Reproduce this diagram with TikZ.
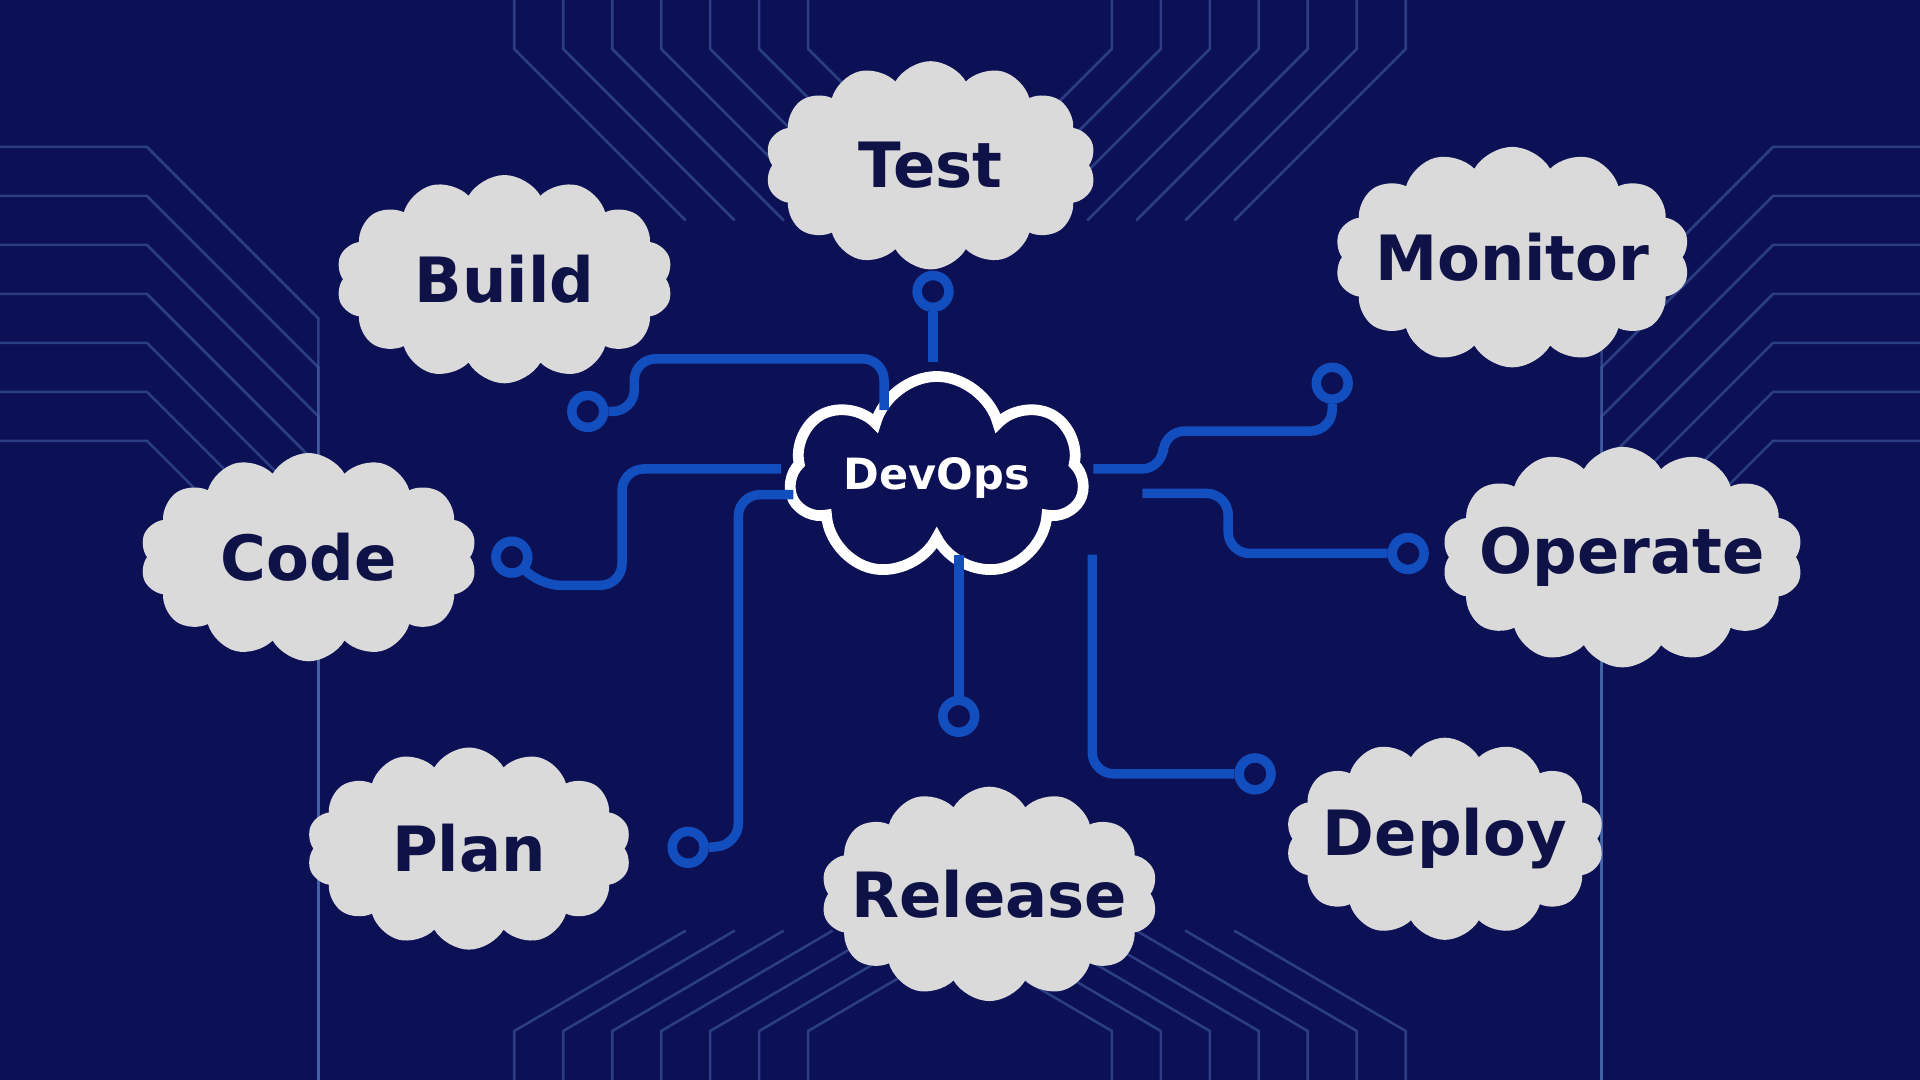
\documentclass[tikz,border=0pt]{standalone}
\usepackage{fontspec}
\setmainfont{DejaVu Sans}
\usetikzlibrary{shapes,positioning,calc}
\definecolor{nightBlue}{RGB}{12, 16, 84}
\definecolor{wireBlue}{RGB}{18, 78, 190}
\definecolor{puffGray}{RGB}{218, 218, 218}
\definecolor{inkNavy}{RGB}{14, 18, 70}
\definecolor{traceBlue}{RGB}{70, 100, 170}
\begin{document}
\begin{tikzpicture}[x=0.01cm,y=-0.01cm,
    stage/.style={cloud,cloud puffs=14,cloud puff arc=120,fill=puffGray,
                  draw=none,inner sep=0pt,
                  label={[font=\fontsize{14.5}{17}\selectfont\bfseries,text=inkNavy]center:#1}},
    wire/.style={draw=wireBlue,line width=2.2pt,rounded corners=5pt},
    ring/.style={circle,draw=wireBlue,line width=2.2pt,minimum size=0.26cm,inner sep=0pt},
    trace/.style={draw=traceBlue,line width=0.6pt,opacity=0.55}
  ]
  % background
  \fill[nightBlue] (0,0) rectangle (1568,882);
  \useasboundingbox (0,0) rectangle (1568,882);
  % faint circuit traces
  \foreach \s in {0,40,...,240}{
    \draw[trace] (0,120+\s) -- (120,120+\s) -- (260,260+\s) -- (260,882);
    \draw[trace] (1568,120+\s) -- (1448,120+\s) -- (1308,260+\s) -- (1308,882);
    \draw[trace] (420+\s,0) -- (420+\s,40) -- (560+\s,180);
    \draw[trace] (1148-\s,0) -- (1148-\s,40) -- (1008-\s,180);
    \draw[trace] (420+\s,882) -- (420+\s,842) -- (560+\s,760);
    \draw[trace] (1148-\s,882) -- (1148-\s,842) -- (1008-\s,760);
  }
  % stages
  \node[stage=Test,minimum width=2.7cm,minimum height=1.7cm] (test) at (760,135) {};
  \node[stage=Build,minimum width=2.75cm,minimum height=1.7cm] (build) at (412,228) {};
  \node[stage=Monitor,minimum width=2.9cm,minimum height=1.8cm] (monitor) at (1235,210) {};
  \node[stage=Code,minimum width=2.75cm,minimum height=1.7cm] (code) at (252,455) {};
  \node[stage=Operate,minimum width=2.95cm,minimum height=1.8cm] (operate) at (1325,455) {};
  \node[stage=Plan,minimum width=2.65cm,minimum height=1.65cm] (plan) at (383,693) {};
  \node[stage=Release,minimum width=2.75cm,minimum height=1.75cm] (release) at (808,730) {};
  \node[stage=Deploy,minimum width=2.6cm,minimum height=1.65cm] (deploy) at (1180,685) {};
  % hub
  \node[cloud,cloud puffs=7,draw=white,line width=2.5pt,fill=nightBlue,inner sep=0pt,
        minimum width=2.4cm,minimum height=1.65cm,
        label={[text=white,font=\fontsize{10}{12}\selectfont\bfseries]center:DevOps}] (devops) at (765,390) {};
  % rings
  \node[ring] (rTest) at (762,238) {};
  \node[ring] (rBuild) at (480,336) {};
  \node[ring] (rCode) at (418,455) {};
  \node[ring] (rPlan) at (562,692) {};
  \node[ring] (rRelease) at (783,585) {};
  \node[ring] (rDeploy) at (1025,632) {};
  \node[ring] (rOperate) at (1150,452) {};
  \node[ring] (rMonitor) at (1088,313) {};
  % wires
  \coordinate (pTest) at (762,296);
  \coordinate (pBuild) at (722,335);
  \coordinate (pCode) at (638,383);
  \coordinate (pPlan) at (648,404);
  \coordinate (pRelease) at (783,453);
  \coordinate (pDeploy) at (892,453);
  \coordinate (pOperate) at (933,403);
  \coordinate (pMonitor) at (893,383);
  \draw[wire] (pTest) -- (rTest.south);
  \draw[wire] (pBuild) |- (518,293) |- (rBuild.east);
  \draw[wire] (pCode) -| (508,478) -- (440,478) -- (rCode.south east);
  \draw[wire] (pPlan) -| (603,690) -- (rPlan.east);
  \draw[wire] (pRelease) -- (rRelease.north);
  \draw[wire] (pDeploy) |- (rDeploy.west);
  \draw[wire] (pOperate) -| (1003,452) -- (rOperate.west);
  \draw[wire] (pMonitor) -| (950,352) -| (rMonitor.south);
\end{tikzpicture}
\end{document}
